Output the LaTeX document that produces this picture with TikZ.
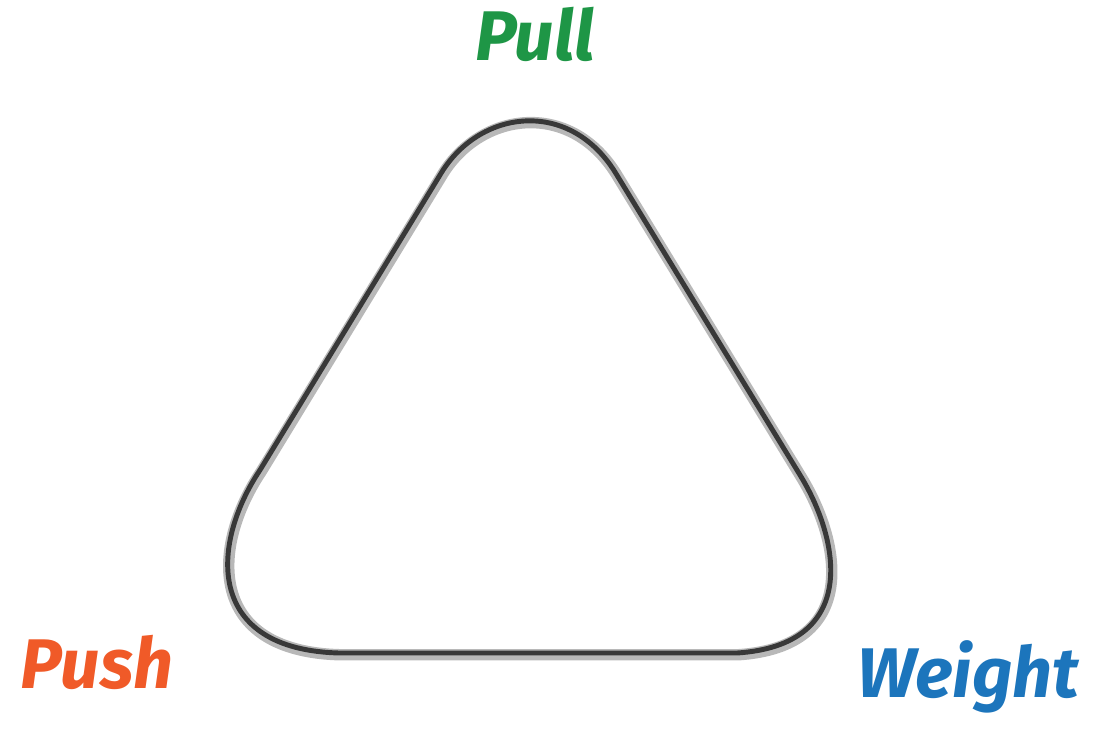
\documentclass[tikz,border=0pt]{standalone}
\usepackage{fontspec}
\setmainfont{Fira Sans}
\usepackage{xcolor}
\usepackage{tikz}
\usetikzlibrary{positioning}

\definecolor{pullgreen}{RGB}{30,150,70}
\definecolor{pushorange}{RGB}{240,90,40}
\definecolor{weightblue}{RGB}{28,117,188}

\def\looppath{(440,175) .. controls (478,110) and (568,97) .. (615,172)
  -- (800,475) .. controls (840,540) and (860,645) .. (737,653)
  -- (340,653) .. controls (205,650) and (210,545) .. (260,470) -- cycle}

\begin{document}
\begin{tikzpicture}[
    x=0.02cm, y=-0.02cm,
    label/.style={font=\fontsize{40}{44}\selectfont\bfseries\itshape, inner sep=0pt, anchor=base},
    halo/.style={draw=black!28, line width=6.5pt, line join=round},
    core/.style={draw=black!78, line width=2.8pt, line join=round}
]
\useasboundingbox (0,0) rectangle (1094,728);

% the loop
\draw[halo, xshift=0.6pt, yshift=-1pt] \looppath;
\draw[core] \looppath;

% corner labels
\node[label, text=pullgreen] (pull) at (535,60) {Pull};
\node[label, text=pushorange] (push) at (97,688) {Push};
\node[label, text=weightblue] (weight) at (968,697) {Weight};
\end{tikzpicture}
\end{document}
